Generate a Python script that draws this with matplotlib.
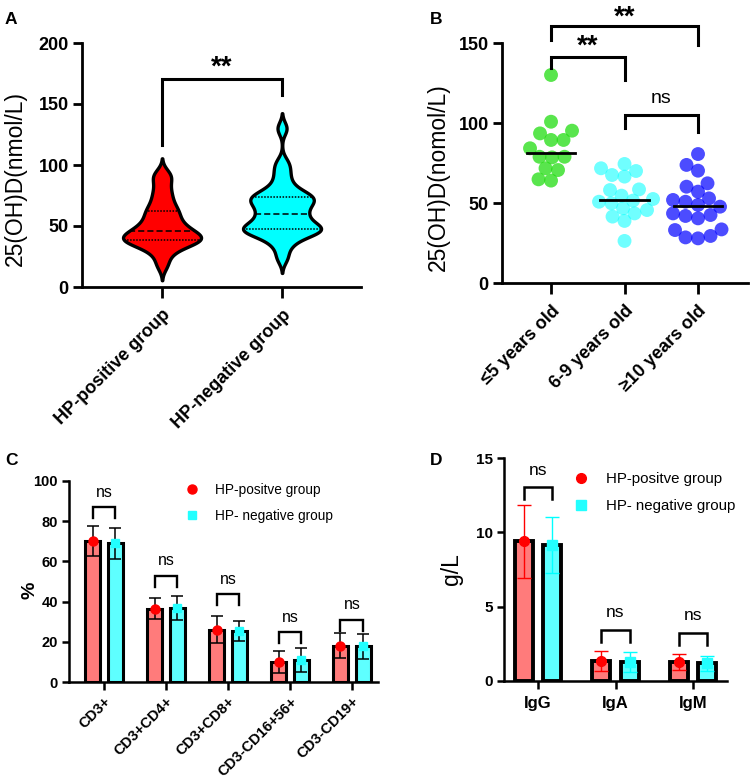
import numpy as np
import matplotlib
matplotlib.use("Agg")
import matplotlib.pyplot as plt
from matplotlib.lines import Line2D

plt.rcParams['font.family'] = ['Liberation Sans', 'DejaVu Sans']

# ---------------- data ----------------
# Panel A (violin)
groups_A = ["HP-positive group", "HP-negative group"]
hp_pos_vals = [18, 26, 31, 34, 36, 37, 38, 39, 40, 41, 42, 44, 45, 47, 49, 51, 54,
               57, 60, 63, 66, 71, 76, 82, 89, 93]
hp_neg_vals = [24, 33, 38, 42, 44, 45, 46, 47, 48, 49, 50, 52, 55, 57, 59, 61, 64,
               66, 68, 70, 72, 73, 74, 76, 78, 82, 88, 95, 102, 130]

# Panel B (scatter by age)
age_groups = ["≤5 years old", "6-9 years old", "≥10 years old"]
age_le5 = [130.0, 100.8, 95.2, 93.5, 89.4, 89.4, 84.2, 78.9, 78.9, 78.5, 71.7, 70.6, 64.8, 64.0]
age_6_9 = [74.4, 71.7, 70.0, 67.5, 66.5, 58.5, 58.1, 54.6, 52.5, 51.5, 50.8, 49.8, 46.7,
           45.6, 43.5, 41.5, 38.8, 26.3]
age_ge10 = [80.6, 73.8, 70.2, 62.3, 60.2, 57.1, 52.9, 51.9, 50.8, 48.8, 47.7, 43.5, 42.5,
            41.9, 40.4, 33.5, 33.1, 29.4, 28.5, 27.9]

# Panel C (lymphocyte subsets, %)
cell_types = ["CD3+", "CD3+CD4+", "CD3+CD8+", "CD3-CD16+56+", "CD3-CD19+"]
c_pos_mean = [70.0, 36.5, 26.0, 10.0, 18.0]
c_pos_sd = [7.5, 5.3, 6.8, 5.5, 6.3]
c_neg_mean = [69.0, 36.8, 25.5, 11.0, 17.7]
c_neg_sd = [7.7, 6.0, 5.0, 6.0, 6.2]
c_bracket_y = [86.9, 52.9, 43.6, 24.7, 31.0]

# Panel D (immunoglobulins, g/L)
ig_types = ["IgG", "IgA", "IgM"]
d_pos_mean = [9.4, 1.37, 1.28]
d_pos_sd = [2.45, 0.68, 0.55]
d_neg_mean = [9.15, 1.28, 1.20]
d_neg_sd = [1.9, 0.68, 0.50]
d_bracket_y = [13.02, 3.43, 3.25]

legend_labels = ["HP-positve group", "HP- negative group"]

# ---------------- figure ----------------
W, H = 750, 781
fig = plt.figure(figsize=(W / 100, H / 100), dpi=100)


def axes_px(x0, x1, ytop, ybot):
    return fig.add_axes([x0 / W, 1 - ybot / H, (x1 - x0) / W, (ybot - ytop) / H])


def style(ax, lw, ticklen, fs):
    for s in ['top', 'right']:
        ax.spines[s].set_visible(False)
    for s in ['left', 'bottom']:
        ax.spines[s].set_linewidth(lw)
    ax.tick_params(axis='both', direction='out', length=ticklen, width=lw,
                   labelsize=fs, pad=3)
    for lab in ax.get_yticklabels():
        lab.set_fontweight('bold')


def bracket(ax, x1, x2, ytop, y1, y2, lw):
    ax.plot([x1, x1, x2, x2], [y1, ytop, ytop, y2], color='k', lw=lw,
            clip_on=False, solid_joinstyle='miter')


# ---- Panel A ----
axA = axes_px(82, 361, 43, 287)
axA.set_xlim(-0.667, 1.658)
axA.set_ylim(0, 200)
bw, cut, half = 5.2, 2.4, 0.325
for i, (vals, col) in enumerate(zip([hp_pos_vals, hp_neg_vals], ['#ff0000', '#00ffff'])):
    v = np.asarray(vals, float)
    yy = np.linspace(v.min() - cut * bw, v.max() + cut * bw, 400)
    dens = np.exp(-0.5 * ((yy[:, None] - v[None, :]) / bw) ** 2).sum(axis=1)
    dens = dens / dens.max() * half
    axA.fill_betweenx(yy, i - dens, i + dens, facecolor=col, edgecolor='k',
                      linewidth=2.4, zorder=2)
    q1, med, q3 = np.percentile(v, [25, 50, 75])
    for q, ls in [(q1, (0, (1, 1))), (med, (0, (4, 2))), (q3, (0, (1, 1)))]:
        w = np.interp(q, yy, dens)
        axA.plot([i - w, i + w], [q, q], color='k', lw=1.1, ls=ls, zorder=3)
axA.set_yticks([0, 50, 100, 150, 200])
axA.set_xticks([0, 1])
axA.set_xticklabels(groups_A, rotation=45, ha='right', va='top',
                    rotation_mode='anchor', fontweight='bold')
style(axA, 2.0, 6.5, 13)
axA.tick_params(axis='x', length=8, pad=6)
axA.set_ylabel("25(OH)D(nmol/L)", fontsize=16.5)
axA.yaxis.set_label_coords(-0.197, 0.443)
bracket(axA, 0, 1, 170.5, 116, 157.4, 2.2)
axA.text(0.5, 180, "**", ha='center', va='center', fontsize=20, fontweight='bold')
fig.text(5 / W, 1 - 20 / H, "A", fontsize=12.5, fontweight='bold', va='center')

# ---- Panel B ----
axB = axes_px(502, 748, 43, 283)
axB.set_xlim(-0.667, 2.68)
axB.set_ylim(0, 150)
px_x = 246 / (2.68 + 0.667)
px_y = 240 / 150.0


def swarm(vals, d):
    order = np.argsort(vals)
    placed = []
    offs = np.zeros(len(vals))
    for idx in order:
        y = vals[idx] * px_y
        best = None
        for k in range(0, 200):
            for sgn in ([1] if k == 0 else [-1, 1]):
                cand = sgn * k * 0.5
                ok = all((cand - px) ** 2 + (y - py) ** 2 >= d * d for px, py in placed)
                if ok:
                    best = cand
                    break
            if best is not None:
                break
        placed.append((best, y))
        offs[idx] = best / px_x
    return offs


for i, (vals, col, a) in enumerate(zip([age_le5, age_6_9, age_ge10],
                                      ['#22dd11', '#11ffff', '#0000ff'],
                                      [0.75, 0.6, 0.7])):
    v = np.asarray(vals, float)
    offs = swarm(v, 12.5)
    axB.scatter(i + offs, v, s=100, color=col, alpha=a, edgecolors='none', zorder=2,
                clip_on=False)
    axB.plot([i - 0.33, i + 0.33], [np.median(v)] * 2, color='k', lw=2, zorder=3)
axB.set_yticks([0, 50, 100, 150])
axB.set_xticks([0, 1, 2])
axB.set_xticklabels(age_groups, rotation=45, ha='right', va='top',
                    rotation_mode='anchor', fontweight='bold')
style(axB, 2.0, 6.5, 13)
axB.tick_params(axis='x', length=8, pad=6)
axB.set_ylabel("25(OH)D(nomol/L)", fontsize=16.5)
axB.yaxis.set_label_coords(-0.211, 0.442)
bracket(axB, 0, 1, 141.4, 134.4, 127, 2.2)
bracket(axB, 0, 2, 160.6, 151.9, 149, 2.2)
bracket(axB, 1, 2, 105, 96.7, 94.6, 2.2)
axB.text(0.5, 148, "**", ha='center', va='center', fontsize=20, fontweight='bold',
         clip_on=False)
axB.text(1.0, 166, "**", ha='center', va='center', fontsize=20, fontweight='bold',
         clip_on=False)
axB.text(1.5, 115.5, "ns", ha='center', va='center', fontsize=14)
fig.text(430 / W, 1 - 19 / H, "B", fontsize=12.5, fontweight='bold', va='center')

# ---- Panel C ----
axC = axes_px(69, 378, 481, 682)
axC.set_xlim(-0.565, 4.42)
axC.set_ylim(0, 100)
xC = np.arange(len(cell_types))
off, bwid = 0.185, 0.23
axC.bar(xC - off, c_pos_mean, width=bwid, color='#ff7b7b', edgecolor='k', linewidth=2.2, zorder=2)
axC.bar(xC + off, c_neg_mean, width=bwid, color='#5effff', edgecolor='k', linewidth=2.2, zorder=2)
axC.errorbar(xC - off, c_pos_mean, yerr=c_pos_sd, fmt='none', ecolor='k', elinewidth=1.1,
             capsize=4, capthick=1.1, zorder=3)
axC.errorbar(xC + off, c_neg_mean, yerr=c_neg_sd, fmt='none', ecolor='k', elinewidth=1.1,
             capsize=4, capthick=1.1, zorder=3)
axC.plot(xC - off, c_pos_mean, 'o', color='#ff0000', ms=6.5, zorder=4, clip_on=False)
axC.plot(xC + off, c_neg_mean, 's', color='#22ffff', ms=6, zorder=4, clip_on=False)
for i, yb in enumerate(c_bracket_y):
    bracket(axC, i - off, i + off, yb, yb - 5.5, yb - 5.5, 1.7)
    axC.text(i, yb + 7.5, "ns", ha='center', va='center', fontsize=11.5)
axC.set_yticks([0, 20, 40, 60, 80, 100])
axC.set_xticks(xC)
axC.set_xticklabels(cell_types, rotation=45, ha='right', va='top',
                    rotation_mode='anchor', fontweight='bold')
style(axC, 1.8, 5, 10.5)
axC.tick_params(axis='x', length=6, pad=3, labelsize=10.6)
axC.set_ylabel("%", fontsize=14, fontweight='bold')
axC.yaxis.set_label_coords(-0.1, 0.458)
hC = [Line2D([], [], marker='o', ls='none', color='#ff0000', ms=6.5),
      Line2D([], [], marker='s', ls='none', color='#22ffff', ms=6)]
fig.legend(hC, legend_labels, loc='upper left', bbox_to_anchor=(185 / W, 1 - 483 / H),
           frameon=False, fontsize=9.8, handlelength=1.0, handletextpad=1.2,
           labelspacing=0.85, borderpad=0, borderaxespad=0)
fig.text(5 / W, 1 - 461 / H, "C", fontsize=12.5, fontweight='bold', va='center')

# ---- Panel D ----
axD = axes_px(504, 727, 458, 681)
axD.set_xlim(-0.44, 2.44)
axD.set_ylim(0, 15)
xD = np.arange(len(ig_types))
axD.bar(xD - off, d_pos_mean, width=bwid, color='#ff7b7b', edgecolor='k', linewidth=2.8, zorder=2)
axD.bar(xD + off, d_neg_mean, width=bwid, color='#5effff', edgecolor='k', linewidth=2.8, zorder=2)
axD.errorbar(xD - off, d_pos_mean, yerr=d_pos_sd, fmt='none', ecolor='#ff0000', elinewidth=1.0,
             capsize=5, capthick=1.0, zorder=3)
axD.errorbar(xD + off, d_neg_mean, yerr=d_neg_sd, fmt='none', ecolor='#00ffff', elinewidth=1.0,
             capsize=5, capthick=1.0, zorder=3)
axD.plot(xD - off, d_pos_mean, 'o', color='#ff0000', ms=7, zorder=4)
axD.plot(xD + off, d_neg_mean, 's', color='#22ffff', ms=6.5, zorder=4)
for i, yb in enumerate(d_bracket_y):
    bracket(axD, i - off, i + off, yb, yb - 0.8, yb - 0.8, 1.8)
    axD.text(i, yb + 1.15, "ns", ha='center', va='center', fontsize=12.5)
axD.set_yticks([0, 5, 10, 15])
axD.set_xticks(xD)
axD.set_xticklabels(ig_types, fontweight='bold', fontsize=12)
style(axD, 1.8, 5, 11)
axD.tick_params(axis='x', length=6, pad=5, labelsize=12)
axD.set_ylabel("g/L", fontsize=16.5)
axD.yaxis.set_label_coords(-0.184, 0.502)
hD = [Line2D([], [], marker='o', ls='none', color='#ff0000', ms=7),
      Line2D([], [], marker='s', ls='none', color='#22ffff', ms=6.5)]
fig.legend(hD, legend_labels, loc='upper left', bbox_to_anchor=(573 / W, 1 - 472 / H),
           frameon=False, fontsize=10.8, handlelength=1.1, handletextpad=1.1,
           labelspacing=0.85, borderpad=0, borderaxespad=0)
fig.text(430 / W, 1 - 460 / H, "D", fontsize=12.5, fontweight='bold', va='center')

fig.savefig("out.png", dpi=100)
